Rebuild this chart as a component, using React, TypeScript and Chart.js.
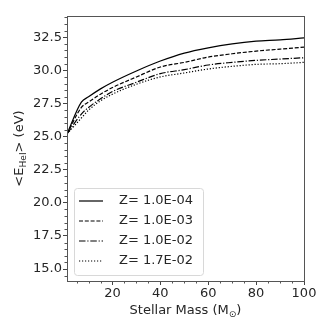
import React, { useEffect, useRef } from "react";
import { Chart, registerables } from "chart.js";

Chart.register(...registerables);

const masses = [1, 7, 10, 15, 20, 30, 40, 50, 60, 70, 80, 90, 100];
const zLabels = ["Z= 1.0E-04", "Z= 1.0E-03", "Z= 1.0E-02", "Z= 1.7E-02"];
const z1e4 = [25.2, 27.6, 28.0, 28.6, 29.1, 29.95, 30.7, 31.3, 31.7, 32.0, 32.2, 32.3, 32.45];
const z1e3 = [25.2, 27.2, 27.6, 28.2, 28.7, 29.5, 30.25, 30.6, 31.0, 31.25, 31.45, 31.6, 31.75];
const z1e2 = [25.2, 26.7, 27.2, 27.85, 28.4, 29.1, 29.75, 30.05, 30.4, 30.6, 30.75, 30.85, 30.95];
const z17e3 = [25.2, 26.4, 27.0, 27.7, 28.2, 28.95, 29.5, 29.8, 30.1, 30.3, 30.45, 30.5, 30.6];
const seriesValues = [z1e4, z1e3, z1e2, z17e3];
const xTicks = [20, 40, 60, 80, 100];
const yTicks = [15.0, 17.5, 20.0, 22.5, 25.0, 27.5, 30.0, 32.5];
const xMinor = [5, 10, 15, 25, 30, 35, 45, 50, 55, 65, 70, 75, 85, 90, 95];
const yMinor = [14.5, 15.5, 16, 16.5, 17, 18, 18.5, 19, 19.5, 20.5, 21, 21.5, 22, 23, 23.5, 24, 24.5, 25.5, 26, 26.5, 27, 28, 28.5, 29, 29.5, 30.5, 31, 31.5, 32, 33, 33.5, 34];
const xTitle = ["Stellar Mass (M", "⊙", ")"];
const yTitle = ["<E", "HeI", "> (eV)"];

const dashes = [[], [4, 1.8], [6.5, 1.8, 1.2, 1.8], [1.2, 1.8]];
const FONT = "DejaVu Sans";
const TEXT = "#262626";

function drawSubText(ctx: CanvasRenderingContext2D, parts: string[], size: number) {
  const sub = size * 0.7;
  ctx.font = `${size}px "${FONT}"`;
  const w0 = ctx.measureText(parts[0]).width;
  const w2 = ctx.measureText(parts[2]).width;
  ctx.font = `${sub}px "${FONT}"`;
  const w1 = ctx.measureText(parts[1]).width;
  const total = w0 + w1 + w2;
  let x = -total / 2;
  ctx.textBaseline = "alphabetic";
  ctx.textAlign = "left";
  ctx.font = `${size}px "${FONT}"`;
  ctx.fillText(parts[0], x, 0);
  x += w0;
  ctx.font = `${sub}px "${FONT}"`;
  ctx.fillText(parts[1], x, size * 0.25);
  x += w1;
  ctx.font = `${size}px "${FONT}"`;
  ctx.fillText(parts[2], x, 0);
}

const decorPlugin = {
  id: "decor",
  afterDraw(chart: any) {
    const ctx: CanvasRenderingContext2D = chart.ctx;
    const a = chart.chartArea;
    const xs = chart.scales.x;
    const ys = chart.scales.y;
    ctx.save();
    // frame
    ctx.strokeStyle = "#555";
    ctx.lineWidth = 1;
    ctx.strokeRect(Math.round(a.left) + 0.5, Math.round(a.top) + 0.5, Math.round(a.right - a.left), Math.round(a.bottom - a.top));
    // minor ticks
    ctx.beginPath();
    xMinor.forEach((v) => {
      const px = Math.round(xs.getPixelForValue(v)) + 0.5;
      ctx.moveTo(px, a.bottom);
      ctx.lineTo(px, a.bottom + 2.5);
    });
    yMinor.forEach((v) => {
      const py = Math.round(ys.getPixelForValue(v)) + 0.5;
      ctx.moveTo(a.left, py);
      ctx.lineTo(a.left - 2.5, py);
    });
    ctx.stroke();
    // titles
    ctx.fillStyle = TEXT;
    ctx.save();
    ctx.translate((a.left + a.right) / 2, 314);
    drawSubText(ctx, xTitle, 13);
    ctx.restore();
    ctx.save();
    ctx.translate(23, (a.top + a.bottom) / 2);
    ctx.rotate(-Math.PI / 2);
    drawSubText(ctx, yTitle, 13);
    ctx.restore();
    // legend
    const lx = a.left + 7;
    const ly = 188;
    const lw = 129;
    const lh = 87;
    ctx.beginPath();
    ctx.roundRect(lx + 0.5, ly + 0.5, lw, lh, 3);
    ctx.fillStyle = "rgba(255,255,255,0.8)";
    ctx.fill();
    ctx.strokeStyle = "#d8d8d8";
    ctx.stroke();
    chart.data.datasets.forEach((ds: any, i: number) => {
      const cy = ly + 13 + i * 20;
      ctx.beginPath();
      ctx.setLineDash(ds.borderDash || []);
      ctx.strokeStyle = "#000";
      ctx.lineWidth = 1.2;
      ctx.moveTo(lx + 5, cy);
      ctx.lineTo(lx + 29, cy);
      ctx.stroke();
      ctx.setLineDash([]);
      ctx.fillStyle = TEXT;
      ctx.font = `13px "${FONT}"`;
      ctx.textAlign = "left";
      ctx.textBaseline = "middle";
      ctx.fillText(ds.label, lx + 45, cy);
    });
    ctx.restore();
  },
};

export default function App() {
  const ref = useRef<HTMLCanvasElement | null>(null);
  useEffect(() => {
    if (!ref.current) return;
    const chart = new Chart(ref.current, {
      type: "line",
      data: {
        datasets: seriesValues.map((vals, i) => ({
          label: zLabels[i],
          data: masses.map((m, j) => ({ x: m, y: vals[j] })),
          borderColor: "#000",
          borderWidth: 1.2,
          borderDash: dashes[i],
          pointRadius: 0,
          tension: 0.3,
          cubicInterpolationMode: "monotone" as const,
          fill: false,
        })),
      },
      options: {
        animation: false,
        responsive: false,
        layout: { padding: { top: 16, right: 28, left: 0, bottom: 0 } },
        plugins: { legend: { display: false }, tooltip: { enabled: false } },
        scales: {
          x: {
            type: "linear",
            min: 1,
            max: 100,
            afterFit: (s: any) => {
              s.height = 51;
            },
            afterBuildTicks: (s: any) => {
              s.ticks = xTicks.map((v) => ({ value: v }));
            },
            ticks: { font: { family: FONT, size: 13 }, color: TEXT, padding: 1, maxRotation: 0 },
            grid: { drawOnChartArea: false, tickLength: 4, color: "#444" },
            border: { color: "#555" },
          },
          y: {
            type: "linear",
            min: 14.1,
            max: 34.1,
            afterFit: (s: any) => {
              s.width = 67;
            },
            afterBuildTicks: (s: any) => {
              s.ticks = yTicks.map((v) => ({ value: v }));
            },
            ticks: {
              font: { family: FONT, size: 13 },
              color: TEXT,
              padding: 1,
              callback: (v: any) => Number(v).toFixed(1),
            },
            grid: { drawOnChartArea: false, tickLength: 4, color: "#444" },
            border: { color: "#555" },
          },
        },
      },
      plugins: [decorPlugin],
    });
    return () => chart.destroy();
  }, []);
  return (
    <div style={{ position: "absolute", left: 0, top: 0, width: 332, height: 332, background: "#fff" }}>
      <canvas ref={ref} width={332} height={332} />
    </div>
  );
}
